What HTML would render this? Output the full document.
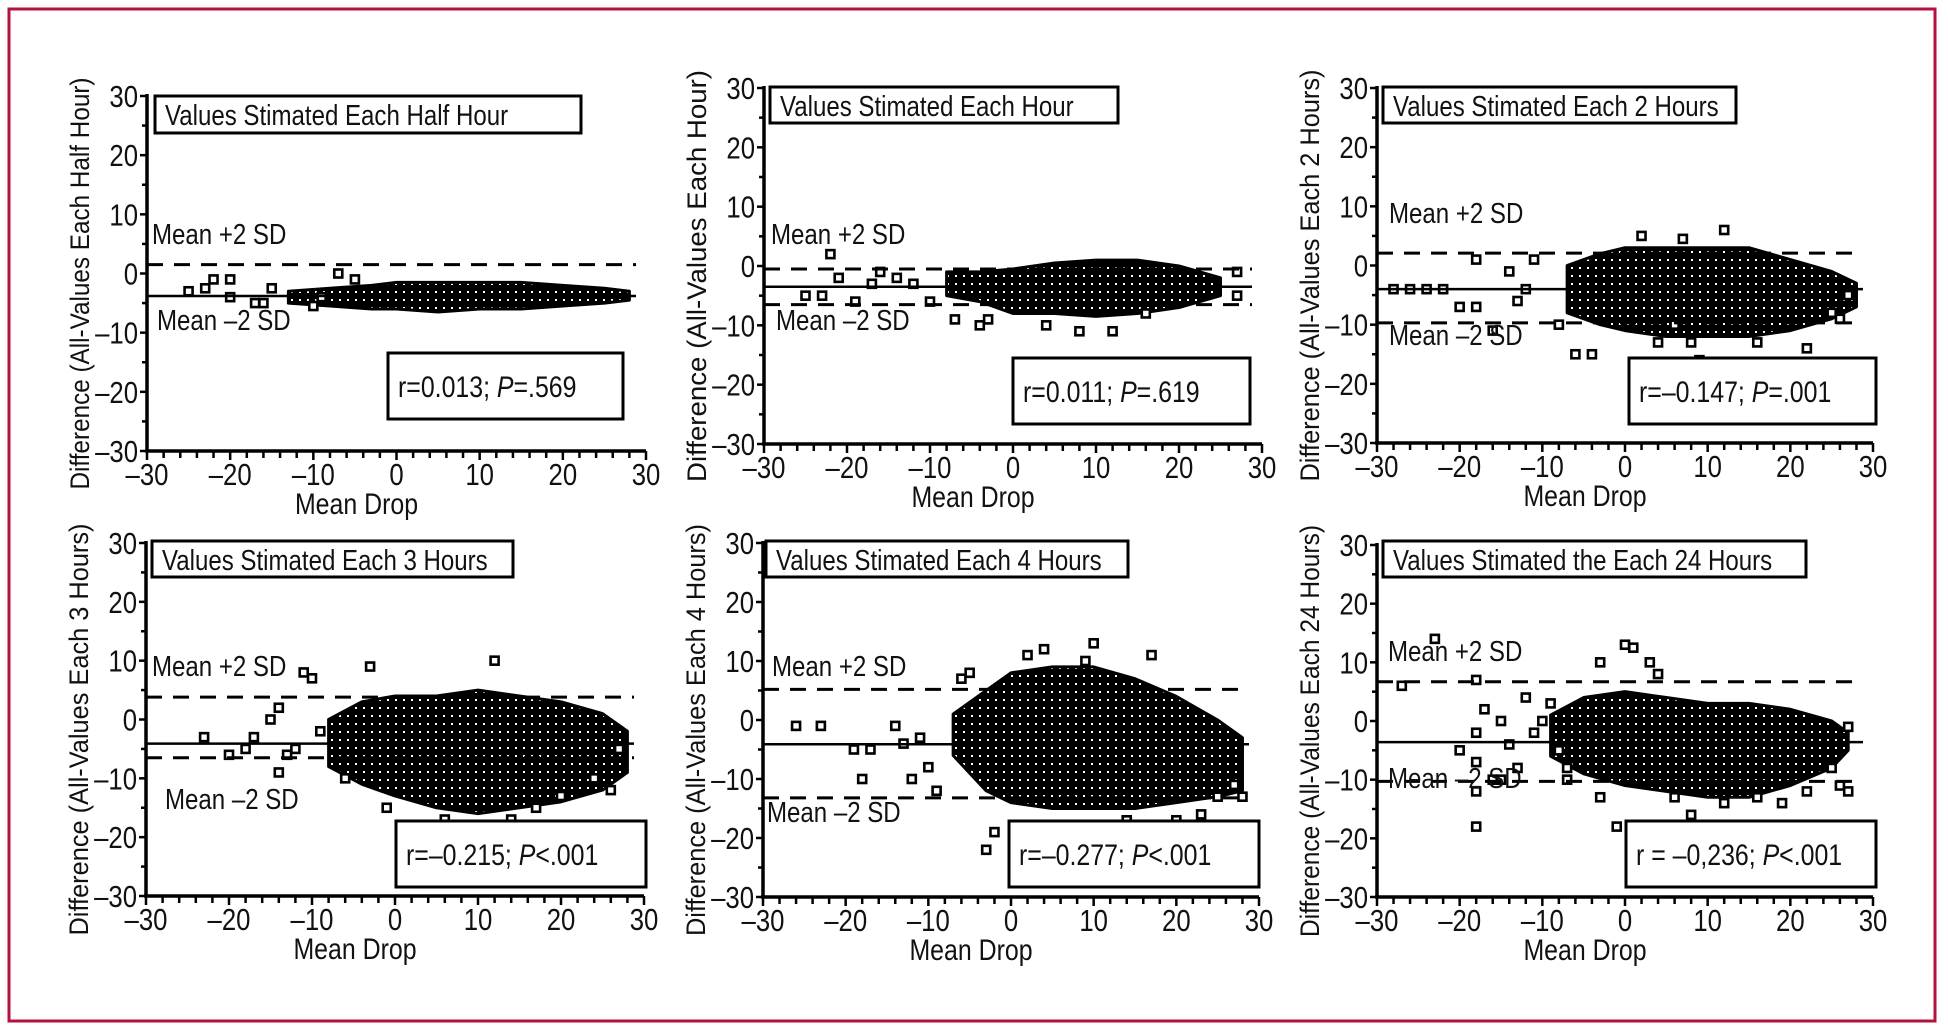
<!DOCTYPE html>
<html><head><meta charset="utf-8"><style>
html,body{margin:0;padding:0;background:#fff;}
svg{display:block;}
text{font-family:"Liberation Sans Narrow","Liberation Sans",sans-serif;fill:#111;}
</style></head><body>
<svg id="fig" width="1948" height="1031" viewBox="0 0 1948 1031" xmlns="http://www.w3.org/2000/svg">
<defs>
<pattern id="cloud" width="8" height="8" patternUnits="userSpaceOnUse">
<rect width="8" height="8" fill="#000"/><rect x="3" y="3" width="2" height="2" fill="#fff"/>
</pattern>
</defs>
<rect x="9" y="9" width="1926" height="1012" fill="none" stroke="#b3123f" stroke-width="3"/>
<g id="plots"></g>
</svg>
<script>
// ---------- data ----------
const xTicks = [-30,-20,-10,0,10,20,30];
const yTicks = [30,20,10,0,-10,-20,-30];
const titles = ["Values Stimated Each Half Hour","Values Stimated Each Hour","Values Stimated Each 2 Hours","Values Stimated Each 3 Hours","Values Stimated Each 4 Hours","Values Stimated the Each 24 Hours"];
const yTitles = ["Difference (All-Values Each Half Hour)","Difference (All-Values Each Hour)","Difference (All-Values Each 2 Hours)","Difference (All-Values Each 3 Hours)","Difference (All-Values Each 4 Hours)","Difference (All-Values Each 24 Hours)"];
const rValues = ["r=0.013; ","r=0.011; ","r=\u20130.147; ","r=\u20130.215; ","r=\u20130.277; ","r = \u20130,236; "];
const pValues = ["=.569","=.619","=.001","<.001","<.001","<.001"];
const upperSD = [1.5,-0.5,2.1,3.8,5.2,6.7];
const meanDiff = [-3.8,-3.5,-4.0,-4.1,-4.1,-3.6];
const lowerSD = [null,-6.5,-9.7,-6.5,-13.2,-10.3];

const p1EnvX=[-13,-8,-3,0,5,10,15,20,25,28];
const p1EnvLo=[-5,-5.5,-6,-6,-6.5,-6,-6,-5.5,-5,-4.5];
const p1EnvHi=[-3,-2.5,-2,-1.5,-1.5,-1.5,-1.5,-2,-2.5,-3];
const p1PtX=[-25,-23,-22,-20,-20,-17,-16,-15,-10,-7,-5,-9];
const p1PtY=[-3,-2.5,-1,-1,-4,-5,-5,-2.5,-5.5,0,-1,-4];

const p2EnvX=[-8,-4,0,5,10,15,20,25];
const p2EnvLo=[-5,-6,-8,-8,-8.5,-8,-7,-5];
const p2EnvHi=[-1,-1,-0.5,0.5,1,1,0,-2];
const p2PtX=[-22,-21,-25,-23,-19,-17,-16,-14,-12,-10,-7,-4,4,8,12,16,27,27,-3];
const p2PtY=[2,-2,-5,-5,-6,-3,-1,-2,-3,-6,-9,-10,-10,-11,-11,-8,-5,-1,-9];

const p3EnvX=[-7,-3,0,5,10,15,20,25,28];
const p3EnvLo=[-8,-10,-11,-12,-12,-12,-11,-9,-7];
const p3EnvHi=[0,2,3,3,3,3,1,-1,-3];
const p3PtX=[-28,-26,-24,-22,-16,-18,-14,-13,-12,-11,-8,-6,-4,2,7,12,4,8,9,6,16,22,25,27,26,-20,-18];
const p3PtY=[-4,-4,-4,-4,-11,-7,-1,-6,-4,1,-10,-15,-15,5,4.5,6,-13,-13,-16,-10,-13,-14,-8,-5,-9,-7,1];

const p4EnvX=[-8,-4,0,5,10,15,20,25,28];
const p4EnvLo=[-8,-11,-13,-15,-16,-15,-14,-12,-9];
const p4EnvHi=[0,3,4,4,5,4,3,1,-2];
const p4PtX=[-23,-20,-18,-15,-14,-13,-12,-11,-10,-9,-6,-3,-1,3,6,12,14,17,20,24,26,27,-17,-14];
const p4PtY=[-3,-6,-5,0,2,-6,-5,8,7,-2,-10,9,-15,-18,-17,10,-17,-15,-13,-10,-12,-5,-3,-9];

const p5EnvX=[-7,-3,0,5,10,15,20,25,28];
const p5EnvLo=[-6,-12,-14,-15,-15,-15,-14,-13,-12];
const p5EnvHi=[1,5,8,9,9,7,4,0,-3];
const p5PtX=[-26,-23,-19,-17,-14,-13,-10,-9,-12,-6,-5,-2,-3,1,2,4,10,9,14,20,23,25,27,28,-18,-11,17];
const p5PtY=[-1,-1,-5,-5,-1,-4,-8,-12,-10,7,8,-19,-22,-18,11,12,13,10,-17,-17,-16,-13,-11,-13,-10,-3,11];

const p6EnvX=[-9,-5,0,5,10,15,20,25,27];
const p6EnvLo=[-6,-9,-11,-12,-13,-13,-11,-8,-5];
const p6EnvHi=[1,4,5,4,3,3,2,0,-2];
const p6PtX=[-27,-23,-18,-18,-18,-18,-18,-17,-15,-15,-14,-12,-11,-10,-9,-8,-7,-7,-13,-3,0,1,3,4,-1,8,-3,6,12,16,19,22,25,26,27,27,-20,-16];
const p6PtY=[6,14,7,-2,-7,-12,-18,2,0,-10,-4,4,-2,0,3,-5,-8,-10,-8,10,13,12.5,10,8,-18,-16,-13,-13,-14,-13,-14,-12,-8,-11,-12,-1,-5,-10];

const envXs=[p1EnvX,p2EnvX,p3EnvX,p4EnvX,p5EnvX,p6EnvX];
const envLos=[p1EnvLo,p2EnvLo,p3EnvLo,p4EnvLo,p5EnvLo,p6EnvLo];
const envHis=[p1EnvHi,p2EnvHi,p3EnvHi,p4EnvHi,p5EnvHi,p6EnvHi];
const ptXs=[p1PtX,p2PtX,p3PtX,p4PtX,p5PtX,p6PtX];
const ptYs=[p1PtY,p2PtY,p3PtY,p4PtY,p5PtY,p6PtY];

// ---------- layout (pixels) ----------
const layout=[
 {x0:147,y0:96,w:499,h:355, tb:[155,96,426,37], rb:[388,353,235,66], up:[5,138], lo:[10,224]},
 {x0:764,y0:88,w:498,h:356, tb:[770,87,348,36], rb:[1013,358,237,66], up:[7,146], lo:[12,232]},
 {x0:1377,y0:88,w:496,h:355, tb:[1383,87,353,36], rb:[1629,358,247,66], up:[12,125], lo:[12,247]},
 {x0:146,y0:543,w:498,h:353, tb:[152,541,361,36], rb:[396,821,250,66], up:[6,123], lo:[19,256]},
 {x0:763,y0:543,w:496,h:354, tb:[766,541,362,36], rb:[1009,821,250,66], up:[9,123], lo:[4,269]},
 {x0:1377,y0:545,w:496,h:352, tb:[1383,541,423,36], rb:[1626,821,250,66], up:[11,106], lo:[11,233]}
];
const SX=0.83;
const NS="http://www.w3.org/2000/svg";
const root=document.getElementById('plots');
function mk(tag,attrs,parent){const e=document.createElementNS(NS,tag);for(const k in attrs)e.setAttribute(k,attrs[k]);(parent||root).appendChild(e);return e;}
function txt(x,y,size,anchor,parent,extra){
 const a={x:0,y:0,'font-size':size,'text-anchor':anchor,transform:'translate('+x+' '+y+') '+(extra||'')+' scale('+SX+' 1)'};
 return mk('text',a,parent);
}

layout.forEach((L,i)=>{
 const g=mk('g',{});
 
 
 const sx=v=>L.x0+(v+30)/60*L.w;
 const sy=v=>L.y0+(30-v)/60*L.h;
 const yb=L.y0+L.h;
 const ex=envXs[i],lo=envLos[i],hi=envHis[i];
 let d='M'+sx(ex[0])+','+sy(hi[0]);
 for(let k=1;k<ex.length;k++)d+=' L'+sx(ex[k])+','+sy(hi[k]);
 for(let k=ex.length-1;k>=0;k--)d+=' L'+sx(ex[k])+','+sy(lo[k]);
 d+='Z';
 const cl=mk('path',{d:d,fill:'url(#cloud)',stroke:'#000','stroke-width':3,'stroke-linejoin':'round'},g);
 
 
 ptXs[i].forEach((px,k)=>{
  const r=mk('rect',{x:sx(px)-4,y:sy(ptYs[i][k])-4,width:8,height:8,fill:'#fff',stroke:'#000','stroke-width':2.6},g);
  
  
 });
 const ml=mk('line',{x1:L.x0,x2:L.x0+L.w-10,y1:sy(meanDiff[i]),y2:sy(meanDiff[i]),stroke:'#000','stroke-width':2.5},g);
 
 
 const ul=mk('line',{x1:L.x0,x2:L.x0+L.w-10,y1:sy(upperSD[i]),y2:sy(upperSD[i]),stroke:'#000','stroke-width':3,'stroke-dasharray':'16,11'},g);
 
 
 if(lowerSD[i]!==null){
  const ll=mk('line',{x1:L.x0,x2:L.x0+L.w-10,y1:sy(lowerSD[i]),y2:sy(lowerSD[i]),stroke:'#000','stroke-width':3,'stroke-dasharray':'16,11'},g);
  
  
 }
 const ya=mk('line',{x1:L.x0,x2:L.x0,y1:L.y0-2,y2:yb,stroke:'#000','stroke-width':3.5},g);
 
 
 const xa=mk('line',{x1:L.x0-2,x2:L.x0+L.w,y1:yb,y2:yb,stroke:'#000','stroke-width':3.5},g);
 
 
 for(let v=-30;v<=30;v+=2){
  mk('line',{x1:sx(v),x2:sx(v),y1:yb,y2:yb+(v%10===0?9:7),stroke:'#000','stroke-width':2.5},g);
 }
 for(let v=-30;v<=30;v+=5){
  mk('line',{x1:L.x0,x2:L.x0-(v%10===0?7:5),y1:sy(v),y2:sy(v),stroke:'#000','stroke-width':2.5},g);
 }
 xTicks.forEach(v=>{
  const t=txt(sx(v),yb+34,31,'middle',g);
  t.textContent=(v<0?'\u2013'+(-v):String(v));
  
  
 });
 yTicks.forEach(v=>{
  const t=txt(L.x0-9,sy(v)+11,31,'end',g);
  t.textContent=(v<0?'\u2013'+(-v):String(v));
  
  
 });
 const xt=txt(L.x0+L.w/2-40,yb+63,30,'middle',g);
 xt.textContent='Mean Drop';
 
 
 const cy=L.y0+L.h/2+10;
 const yt=mk('text',{x:L.x0-58,y:cy,'text-anchor':'middle','font-size':27,transform:'rotate(-90 '+(L.x0-58)+' '+cy+')',textLength:412,lengthAdjust:'spacingAndGlyphs'},g);
 yt.textContent=yTitles[i];
 
 
 const tb=L.tb;
 const tr=mk('rect',{x:tb[0],y:tb[1],width:tb[2],height:tb[3],fill:'#fff',stroke:'#000','stroke-width':3},g);
 
 
 const tt=txt(tb[0]+10,tb[1]+29,29,'start',g);
 tt.textContent=titles[i];
 
 
 const rb=L.rb;
 const rr=mk('rect',{x:rb[0],y:rb[1],width:rb[2],height:rb[3],fill:'#fff',stroke:'#000','stroke-width':3},g);
 
 
 const rt=txt(rb[0]+10,rb[1]+44,30,'start',g);
 
 
 const s1=mk('tspan',{},rt);s1.textContent=rValues[i];
 const s2=mk('tspan',{'font-style':'italic'},rt);s2.textContent='P';
 const s3=mk('tspan',{},rt);s3.textContent=pValues[i];
 const ut=txt(L.x0+L.up[0],L.y0+L.up[1]+10,29,'start',g);
 ut.textContent='Mean +2 SD';
 
 
 const lt=txt(L.x0+L.lo[0],L.y0+L.lo[1]+10,29,'start',g);
 lt.textContent='Mean \u20132 SD';
 
 
});
</script>
</body></html>
